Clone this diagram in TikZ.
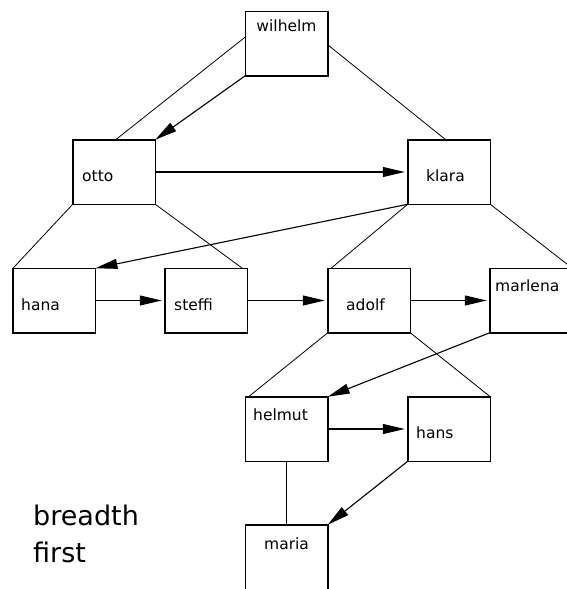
\documentclass[tikz,border=0pt]{standalone}
\usepackage{fontspec}
\setmainfont{DejaVu Sans}
\usetikzlibrary{arrows.meta,calc}
\begin{document}
\begin{tikzpicture}[x=1pt,y=-1pt,
  box/.style={draw,line width=1.5pt,minimum width=82.5pt,minimum height=64.5pt,inner sep=0pt,outer sep=0pt},
  lbl/.style={anchor=base west,inner sep=0pt,font=\fontsize{15.5}{18}\selectfont},
  big/.style={anchor=base west,inner sep=0pt,font=\fontsize{27}{32}\selectfont},
  tree/.style={line width=0.8pt},
  trunk/.style={line width=1.4pt},
  nxt/.style={line width=1.1pt,-{Triangle[length=22pt,width=10pt]}},
  ]
\useasboundingbox (0,0) rectangle (567,589);
% boxes
\node[box] (wilhelm) at (286.5,43.5) {};
\node[box] (otto) at (114,172) {};
\node[box] (klara) at (449,172) {};
\node[box] (hana) at (54.2,300.5) {};
\node[box] (steffi) at (206,300.5) {};
\node[box] (adolf) at (369,300.5) {};
\node[box] (marlena) at (531,300.5) {};
\node[box] (helmut) at (286.5,429) {};
\node[box] (hans) at (449,429) {};
\node[box] (maria) at (286.5,557) {};
% labels
\node[lbl,anchor=base] (twilhelm) at (286.5,31.5) {wilhelm};
\node[lbl] (totto) at (82,181.5) {otto};
\node[lbl] (tklara) at (426,181.5) {klara};
\node[lbl] (thana) at (21,310) {hana};
\node[lbl] (tsteffi) at (174,310) {steffi};
\node[lbl] (tadolf) at (346,310) {adolf};
\node[lbl] (tmarlena) at (495,291.5) {marlena};
\node[lbl] (thelmut) at (253,420) {helmut};
\node[lbl] (thans) at (416,438) {hans};
\node[lbl] (tmaria) at (264,549) {maria};
\node[big] (tbreadth) at (33,525) {breadth};
\node[big] (tfirst) at (33,562) {first};
% tree lines
\draw[tree] ($(wilhelm.north west)!0.4!(wilhelm.south west)$) -- ($(otto.north west)!0.52!(otto.north east)$);
\draw[tree] ($(wilhelm.north east)!0.52!(wilhelm.south east)$) -- ($(klara.north west)!0.46!(klara.north east)$);
\draw[tree] (otto.south west) -- (hana.north west);
\draw[tree] (otto.south east) -- ($(steffi.north west)!0.94!(steffi.north east)$);
\draw[tree] (klara.south west) -- ($(adolf.north west)!0.04!(adolf.north east)$);
\draw[tree] (klara.south east) -- (marlena.north east);
\draw[tree] (adolf.south west) -- ($(helmut.north west)!0.04!(helmut.north east)$);
\draw[tree] (adolf.south east) -- (hans.north east);
\draw[trunk] (helmut.south) -- (maria.north);
% breadth-first order
\draw[nxt] (wilhelm.south west) -- (otto.north east);
\draw[nxt,shorten >=3pt] (otto.east) -- (klara.west);
\draw[nxt] (klara.south west) -- (hana.north east);
\draw[nxt,shorten >=3pt] (hana.east) -- (steffi.west);
\draw[nxt,shorten >=3pt] (steffi.east) -- (adolf.west);
\draw[nxt,shorten >=3pt] (adolf.east) -- (marlena.west);
\draw[nxt] (marlena.south west) -- (helmut.north east);
\draw[nxt,shorten >=3pt] (helmut.east) -- (hans.west);
\draw[nxt] (hans.south west) -- (maria.north east);
\end{tikzpicture}
\end{document}
